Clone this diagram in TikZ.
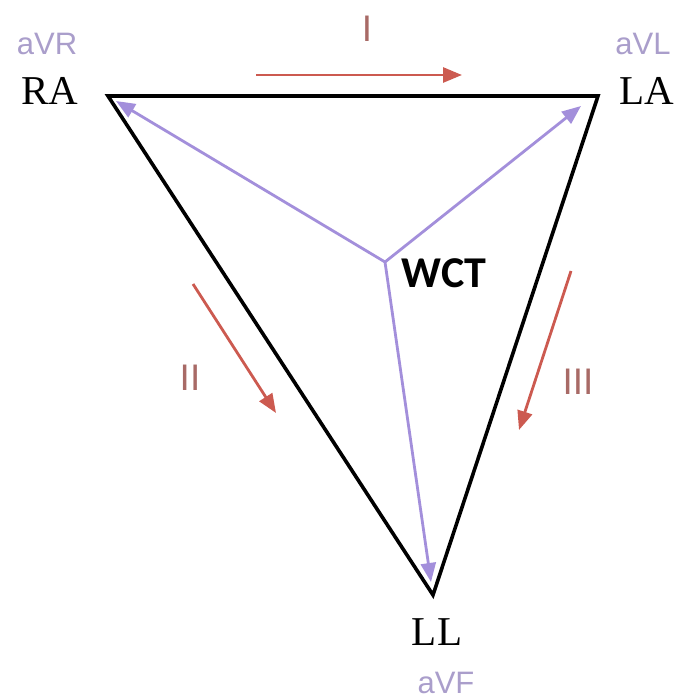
\documentclass[tikz,border=0pt]{standalone}
\usepackage{fontspec}
\setmainfont{Liberation Serif}
\newfontfamily\carl{Carlito}
\newfontfamily\lsans{Liberation Sans}
\usetikzlibrary{arrows.meta}
\definecolor{redarrow}{HTML}{CC5A50}
\definecolor{numcol}{HTML}{A86A66}
\definecolor{purparrow}{HTML}{A38FDB}
\definecolor{leadcol}{HTML}{AA9ECB}
\tikzset{
  side/.style={draw=black,line width=3.6pt,line join=miter},
  vector/.style={draw=purparrow,line width=2.8pt,-{Triangle[length=19pt,width=15pt]}},
  current/.style={draw=redarrow,line width=2.8pt,-{Triangle[length=19pt,width=15pt]}},
  elect/.style={font=\fontsize{41}{41}\selectfont,inner sep=0pt,text=black},
  lead/.style={font=\lsans\fontsize{31}{31}\selectfont,inner sep=0pt,text=leadcol},
  num/.style={font=\lsans\fontsize{37}{37}\selectfont,inner sep=0pt,text=numcol},
}
\begin{document}
\begin{tikzpicture}[x=1pt,y=-1pt]
\useasboundingbox (0,0) rectangle (675,700);
% vertices
\coordinate (ra) at (108,96);
\coordinate (la) at (598,96);
\coordinate (ll) at (433,595);
\coordinate (wct) at (385,262);
\coordinate (ratip) at (116,101);
\coordinate (latip) at (581,106);
\coordinate (lltip) at (431,582);
% triangle
\draw[side] (ra) -- (la) -- (ll) -- cycle;
% vectors
\draw[vector] (wct) -- (ratip);
\draw[vector] (wct) -- (latip);
\draw[vector] (wct) -- (lltip);
% currents
\coordinate (i1) at (256,75);
\coordinate (i2) at (462,75);
\coordinate (ii1) at (193,284);
\coordinate (ii2) at (276,413);
\coordinate (iii1) at (571,271);
\coordinate (iii2) at (519,430);
\draw[current] (i1) -- (i2);
\draw[current] (ii1) -- (ii2);
\draw[current] (iii1) -- (iii2);
% labels
\node[elect] (RA) at (50,91) {RA};
\node[elect] (LA) at (647,91) {LA};
\node[elect] (LL) at (437,632) {LL};
\node[lead] (aVR) at (47,44) {aVR};
\node[lead] (aVL) at (643,44) {aVL};
\node[lead] (aVF) at (446,683) {aVF};
\node[num] (I) at (367,29) {I};
\node[num] (II) at (190,378) {II};
\node[num] (III) at (578,382) {III};
\node[font=\carl\bfseries\fontsize{44}{44}\selectfont,inner sep=0pt] (WCT) at (444,273) {WCT};
\end{tikzpicture}
\end{document}
